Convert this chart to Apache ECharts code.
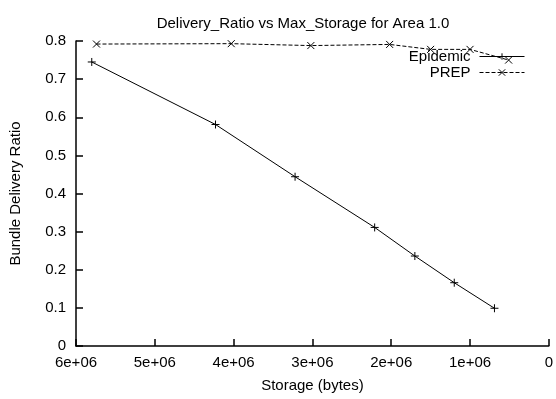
<!DOCTYPE html>
<html>
<head>
<meta charset="utf-8">
<script src="https://cdn.jsdelivr.net/npm/echarts@6/dist/echarts.min.js"></script>
<style>
  html, body { margin: 0; padding: 0; background: #fff; }
  #chart { width: 556px; height: 399px; }
</style>
</head>
<body>
<div id="chart"></div>
<script>
// 数据
const epidemicStorage = [5.8e6, 4.23e6, 3.22e6, 2.21e6, 1.70e6, 1.20e6, 0.69e6];
const epidemicRatio   = [0.745, 0.581, 0.444, 0.311, 0.236, 0.166, 0.099];
const prepStorage = [5.74e6, 4.03e6, 3.02e6, 2.02e6, 1.50e6, 1.0e6, 0.51e6];
const prepRatio   = [0.792, 0.793, 0.788, 0.791, 0.778, 0.778, 0.750];
const seriesNames = ['Epidemic', 'PREP'];

const plusSymbol = 'path://M0,5L10,5M5,0L5,10';
const crossSymbol = 'path://M0,0L10,10M10,0L0,10';
const font = 'Liberation Sans, Arial, sans-serif';
const fs = 15;

function pairs(xs, ys) {
    return xs.map((x, i) => [x, ys[i]]);
}

const chart = echarts.init(document.getElementById('chart'));

const option = {
    animation: false,
    backgroundColor: '#fff',
    title: {
        text: 'Delivery_Ratio vs Max_Storage for Area 1.0',
        left: 298,
        top: 11,
        textAlign: 'center',
        textStyle: { fontFamily: font, fontSize: fs, fontWeight: 'normal', color: '#000' }
    },
    legend: {
        orient: 'vertical',
        right: 26,
        top: 44,
        align: 'right',
        itemWidth: 45,
        itemHeight: 8,
        itemGap: 1,
        data: seriesNames,
        lineStyle: { width: 1 },
        itemStyle: { borderWidth: 1 },
        textStyle: { fontFamily: font, fontSize: fs, color: '#000', padding: [0, 4, 0, 0] }
    },
    grid: {
        left: 75,
        right: 7,
        top: 41,
        bottom: 53
    },
    xAxis: {
        type: 'value',
        inverse: true,
        min: 0,
        max: 6e6,
        interval: 1e6,
        name: 'Storage (bytes)',
        nameLocation: 'middle',
        nameGap: 32,
        nameTextStyle: { fontFamily: font, fontSize: fs, color: '#000' },
        axisLine: { onZero: false, lineStyle: { color: '#000', width: 1.5 } },
        axisTick: { inside: true, length: 7, lineStyle: { color: '#000', width: 1.5 } },
        axisLabel: {
            fontFamily: font, fontSize: fs, color: '#000', margin: 9,
            formatter: v => v === 0 ? '0' : (v / 1e6) + 'e+06'
        },
        splitLine: { show: false }
    },
    yAxis: {
        type: 'value',
        position: 'left',
        min: 0,
        max: 0.8,
        interval: 0.1,
        name: 'Bundle Delivery Ratio',
        nameLocation: 'middle',
        nameGap: 53,
        nameTextStyle: { fontFamily: font, fontSize: fs, color: '#000' },
        axisLine: { show: true, onZero: false, lineStyle: { color: '#000', width: 1.5 } },
        axisTick: { show: true, inside: true, length: 7, lineStyle: { color: '#000', width: 1.5 } },
        axisLabel: {
            fontFamily: font, fontSize: fs, color: '#000', margin: 10,
            formatter: v => String(Math.round(v * 10) / 10)
        },
        splitLine: { show: false }
    },
    series: [
        {
            name: 'Epidemic',
            type: 'line',
            data: pairs(epidemicStorage, epidemicRatio),
            symbol: plusSymbol,
            symbolSize: 8,
            showAllSymbol: true,
            lineStyle: { color: '#000', width: 1, type: 'solid' },
            itemStyle: { color: '#000', borderColor: '#000', borderWidth: 1 }
        },
        {
            name: 'PREP',
            type: 'line',
            data: pairs(prepStorage, prepRatio),
            symbol: crossSymbol,
            symbolSize: 7,
            showAllSymbol: true,
            lineStyle: { color: '#000', width: 1, type: [4, 2] },
            itemStyle: { color: '#000', borderColor: '#000', borderWidth: 1 }
        }
    ]
};

chart.setOption(option);
</script>
</body>
</html>
